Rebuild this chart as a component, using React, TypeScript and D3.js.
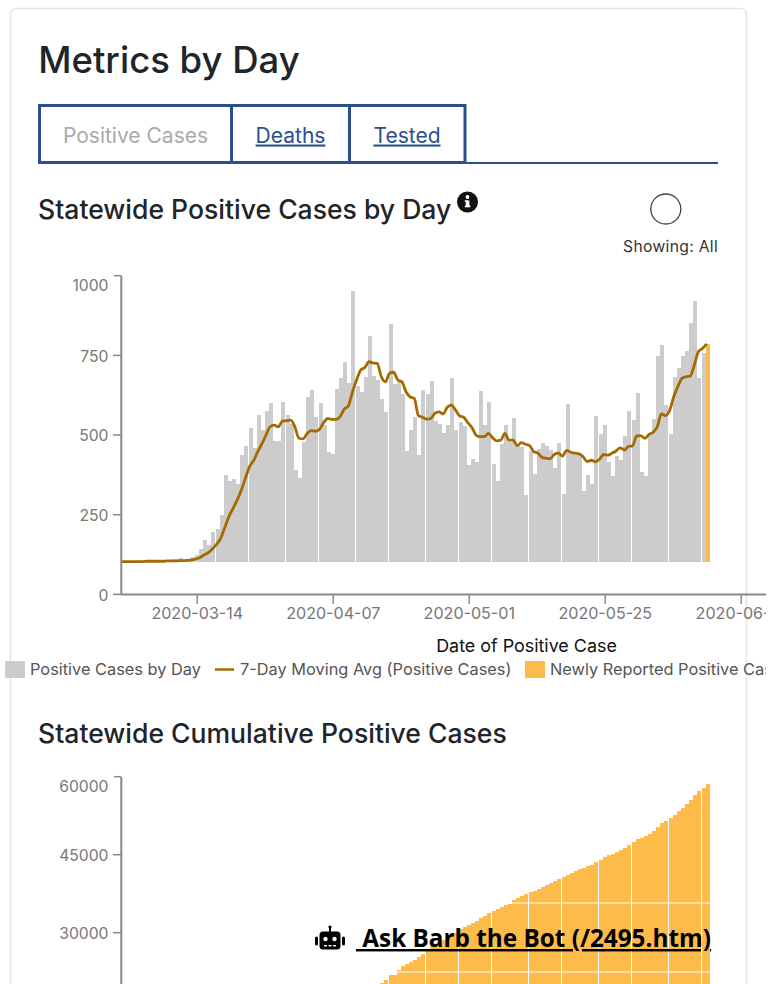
import React from "react";
import * as d3 from "d3";

const dailyCases = [103,103,103,103,103,104,104,104,104,105,105,106,108,110,114,108,108,117,123,142,171,155,196,205,249,
375,356,362,346,437,466,522,459,563,516,575,600,481,481,604,563,535,390,365,478,619,641,557,600,531,447,441,644,679,729,663,952,654,635,682,811,685,673,613,572,848,660,666,629,450,516,557,437,641,629,670,544,535,506,531,679,516,541,528,406,425,415,638,531,604,409,356,472,531,478,553,466,463,312,450,378,456,475,466,453,397,475,315,597,441,437,437,324,375,346,560,503,531,415,371,434,422,497,575,547,632,384,371,500,550,748,783,594,503,682,710,748,764,852,921,679,757,786];

const movingAvg = [103,103,103,103,103,103,104,104,104,104,104,105,105,105,106,106,107,108,111,116,124,131,143,157,176,210,244,270,296,327,364,401,420,448,472,500,526,531,526,544,545,547,526,490,488,505,514,512,518,539,552,549,549,558,581,591,636,673,704,712,730,726,725,683,667,694,697,673,667,636,620,615,561,556,550,552,568,573,566,587,594,579,560,556,539,524,500,495,495,505,492,482,484,505,484,484,467,476,471,467,448,443,430,427,426,439,443,434,452,446,443,441,432,417,421,416,425,439,437,443,450,460,453,464,466,497,498,490,502,509,526,566,561,577,620,652,678,683,685,720,762,772,786];

const cumulativeStart = 63;
const cumulative = [20264,20905,21866,21866,22828,23597,23982,24366,24751,25328,25905,26674,27443,27827,28212,28596,29173,29558,29942,30712,31096,31481,31866,32250,32827,33212,33789,34173,34558,34942,35327,35480,36289,36673,37058,37442,37827,38019,38404,38788,39173,39558,39942,40327,40711,41096,41481,41865,42250,42442,42827,43019,43596,43981,44558,44942,45135,45519,45904,46289,46865,47442,48019,48212,48596,48981,49558,50327,51096,51480,52058,52634,53404,53980,54750,55519,56480,57250,57827,58596];

const dailyTicks = [0, 250, 500, 750, 1000];
const cumulativeTicks = [30000, 45000, 60000];
const dateTicks = ["2020-03-14", "2020-04-07", "2020-05-01", "2020-05-25", "2020-06-18"];
const cumulativeGrid = [35730, 22440];

const GRAY = "#cccccc", GOLD = "#fdbb4a", LINE = "#a36a00", AXIS = "#888888", BLUE = "#2a4f8c";
const UI = "Inter, 'Noto Sans', sans-serif";
const CHART = "Inter, 'Noto Sans', sans-serif";

const xi = d3.scaleLinear().domain([0, 142]).range([121.34, 706.18]);
const xDate = d3.scaleTime().domain([new Date("2020-03-14"), new Date("2020-06-18")]).range([197.3, 741.3]);
const yDaily = d3.scaleLinear().domain([0, 1000]).range([594.4, 275.7]);
const yCum = d3.scaleLinear().domain([30000, 60000]).range([932.7, 776.7]);
const dailyBase = 102;
const barX = (i: number) => Math.floor(xi(i));

const maLine = d3.line<number>().x((_, i) => xi(i) + 0.5).y((d) => yDaily(d)).curve(d3.curveMonotoneX);

function YAxis({ scale, ticks, top, bottom }: { scale: d3.ScaleLinear<number, number>; ticks: number[]; top: number; bottom: number }) {
  return (
    <g>
      <line x1={121.3} x2={121.3} y1={top} y2={bottom} stroke={AXIS} strokeWidth={2} />
      {ticks.map((t) => {
        const max = t === ticks[ticks.length - 1];
        return (
          <g key={t}>
            <line x1={max ? 114 : 113} x2={121} y1={scale(t)} y2={scale(t)} stroke={AXIS} strokeWidth={1.5} />
            <text x={108.5} y={scale(t) + (max ? 9.8 : 0.6)} dy="0.36em" textAnchor="end" fontFamily={CHART} fontSize={15.7} fill="#777">
              {t}
            </text>
          </g>
        );
      })}
    </g>
  );
}

export default function App() {
  return (
    <div style={{ position: "absolute", left: 0, top: 0, width: 774, height: 984, overflow: "hidden", background: "#fff" }}>
      <svg width={774} height={984} viewBox="0 0 774 984" style={{ display: "block" }}>
        <defs>
          <clipPath id="page"><rect x={0} y={0} width={766} height={984} /></clipPath>
        </defs>
        <rect x={10.5} y={8.5} width={736} height={1100} rx={6} fill="#fff" stroke="#e4e4e4" strokeWidth={1.5} />

        <text x={38.2} y={73} fontFamily={UI} fontSize={36.5} fontWeight={450} fill="#212529">Metrics by Day</text>

        <line x1={465} x2={718} y1={163} y2={163} stroke={BLUE} strokeWidth={2} />
        <rect x={39.5} y={105.5} width={192} height={57} fill="#fff" stroke={BLUE} strokeWidth={3} />
        <rect x={231.5} y={105.5} width={118} height={57} fill="#fff" stroke={BLUE} strokeWidth={3} />
        <rect x={349.5} y={105.5} width={115.5} height={57} fill="#fff" stroke={BLUE} strokeWidth={3} />
        <text x={135.5} y={142.5} textAnchor="middle" fontFamily={UI} fontSize={21} fill="#aaaaaa">Positive Cases</text>
        <text x={290.5} y={142.5} textAnchor="middle" fontFamily={UI} fontSize={21} fill={BLUE} textDecoration="underline">Deaths</text>
        <text x={407} y={142.5} textAnchor="middle" fontFamily={UI} fontSize={21} fill={BLUE} textDecoration="underline">Tested</text>

        <text x={38} y={218.5} fontFamily={UI} fontSize={26.55} fontWeight={450} fill="#212529">Statewide Positive Cases by Day</text>
        <circle cx={467.5} cy={202} r={10.5} fill="#111" />
        <rect x={465.8} y={200.5} width={3.6} height={6.5} fill="#fff" />
        <rect x={464.8} y={205.5} width={5.6} height={1.8} fill="#fff" />
        <rect x={464.8} y={200.3} width={3} height={1.6} fill="#fff" />
        <circle cx={467.5} cy={197} r={1.9} fill="#fff" />

        <circle cx={665.8} cy={209} r={15} fill="#fff" stroke="#444" strokeWidth={1.3} />
        <text x={718} y={251.5} textAnchor="end" fontFamily={CHART} fontSize={15.7} letterSpacing={0.3} fill="#333">Showing: All</text>

        {dailyCases.map((v, i) => (
          <rect key={i} x={barX(i)} y={yDaily(v)} width={4} height={yDaily(dailyBase) - yDaily(v)}
            fill={i === dailyCases.length - 1 ? GOLD : GRAY} shapeRendering="crispEdges" />
        ))}
        <path d={maLine(movingAvg) ?? ""} fill="none" stroke={LINE} strokeWidth={2.8} />

        <YAxis scale={yDaily} ticks={dailyTicks} top={275.7} bottom={595} />
        <g clipPath="url(#page)">
          <line x1={121} x2={774} y1={594.6} y2={594.6} stroke={AXIS} strokeWidth={2} />
          {dateTicks.map((d) => {
            const x = xDate(new Date(d));
            return (
              <g key={d}>
                <line x1={x} x2={x} y1={595} y2={604} stroke={AXIS} strokeWidth={1.5} />
                <text x={x} y={618.5} textAnchor="middle" fontFamily={CHART} fontSize={16.1} fill="#777">{d}</text>
              </g>
            );
          })}
          <text x={526.5} y={652} textAnchor="middle" fontFamily={CHART} fontSize={17.9} fill="#111">Date of Positive Case</text>

          <rect x={5} y={661} width={20} height={17} fill={GRAY} />
          <text x={30} y={675} fontFamily={CHART} fontSize={16.35} fill="#555">Positive Cases by Day</text>
          <line x1={215} x2={234} y1={669.5} y2={669.5} stroke={LINE} strokeWidth={2.5} />
          <text x={240} y={675} fontFamily={CHART} fontSize={16.35} fill="#555">7-Day Moving Avg (Positive Cases)</text>
          <rect x={525} y={661} width={20} height={17} fill={GOLD} />
          <text x={550} y={675} fontFamily={CHART} fontSize={16.35} fill="#555">Newly Reported Positive Cases</text>
        </g>

        <text x={38} y={742.5} fontFamily={UI} fontSize={26.55} fontWeight={450} fill="#212529">Statewide Cumulative Positive Cases</text>

        {cumulative.map((v, k) => {
          const i = k + cumulativeStart;
          return <rect key={i} x={barX(i)} y={yCum(v)} width={4} height={1100 - yCum(v)} fill={GOLD} shapeRendering="crispEdges" />;
        })}
        <clipPath id="cumBars">
          {cumulative.map((v, k) => (
            <rect key={k} x={barX(k + cumulativeStart)} y={yCum(v)} width={4} height={1100 - yCum(v)} shapeRendering="crispEdges" />
          ))}
        </clipPath>
        <g clipPath="url(#cumBars)">
          {cumulativeGrid.map((g) => (
            <line key={g} x1={121} x2={710} y1={yCum(g)} y2={yCum(g)} stroke="#fff" strokeOpacity={0.65} strokeWidth={1.5} />
          ))}
        </g>
        <YAxis scale={yCum} ticks={cumulativeTicks} top={776.7} bottom={1000} />

        <g transform="translate(314.5,926)" fill="#000">
          <rect x={5} y={5.5} width={21} height={18} rx={3.5} />
          <rect x={14.5} y={0} width={2} height={6} />
          <circle cx={15.5} cy={1} r={1.6} />
          <rect x={0.5} y={10.5} width={3} height={9} rx={1.5} />
          <rect x={27.5} y={10.5} width={3} height={9} rx={1.5} />
          <circle cx={11} cy={13} r={2.2} fill="#fff" />
          <circle cx={20} cy={13} r={2.2} fill="#fff" />
          <rect x={9.5} y={19} width={3} height={1.4} fill="#fff" />
          <rect x={14} y={19} width={3} height={1.4} fill="#fff" />
          <rect x={18.5} y={19} width={3} height={1.4} fill="#fff" />
        </g>
        <text x={356} y={947} fontFamily="'Open Sans', sans-serif" fontSize={24.3} fontWeight={700} fill="#000" textDecoration="underline" xmlSpace="preserve">{" Ask Barb the Bot (/2495.htm)"}</text>
      </svg>
    </div>
  );
}
